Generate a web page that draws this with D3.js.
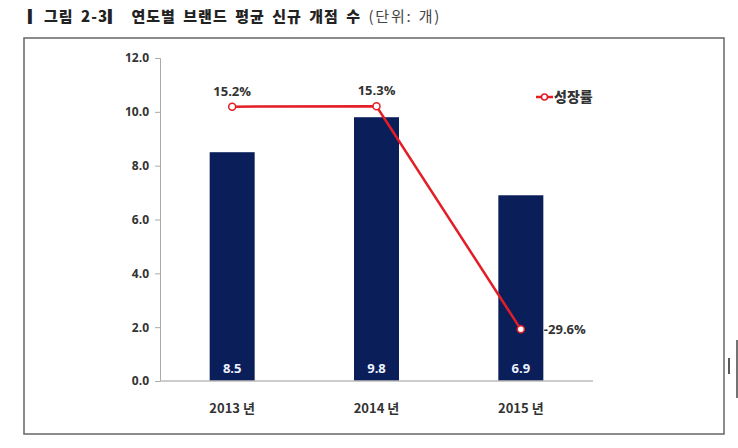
<!DOCTYPE html>
<html>
<head>
<meta charset="utf-8">
<script src="https://cdn.jsdelivr.net/npm/d3@7"></script>
<style>
  body { margin: 0; background: #fff; }
  svg { display: block; font-family: "Noto Sans CJK KR", "Noto Sans", sans-serif; }
</style>
</head>
<body>
<svg id="chart" width="738" height="448"></svg>
<script>
// chart data
const years = ["2013 년", "2014 년", "2015 년"];
const avgOpenings = [8.5, 9.8, 6.9];
const growthRates = [15.2, 15.3, -29.6];
const yTicks = [0, 2, 4, 6, 8, 10, 12];

const svg = d3.select('#chart');

// title
const title = svg.append('text')
  .attr('x', 28)
  .attr('y', 22)
  .attr('font-size', 15)
  .attr('fill', '#222')
  .attr('letter-spacing', 1.0)
  .attr('word-spacing', 3);
title.append('tspan').attr('font-weight', 900).text('▎그림 2-3▎ 연도별 브랜드 평균 신규 개점 수 ');
title.append('tspan').attr('font-weight', 400).attr('fill', '#444')
  .attr('font-size', 15).attr('letter-spacing', 1.8).attr('word-spacing', 1).text('(단위: 개)');

// frame
svg.append('rect')
  .attr('x', 24).attr('y', 38)
  .attr('width', 700).attr('height', 396)
  .attr('fill', 'none')
  .attr('stroke', '#666')
  .attr('stroke-width', 1.5);

// stray marks at the right edge of the scan
svg.append('line').attr('x1', 729).attr('x2', 729).attr('y1', 358).attr('y2', 374)
  .attr('stroke', '#222').attr('stroke-width', 1.5);
svg.append('line').attr('x1', 737).attr('x2', 737).attr('y1', 340).attr('y2', 398)
  .attr('stroke', '#444').attr('stroke-width', 1.5);

// scales
const x = d3.scaleBand().domain(years).range([160, 593]).padding(0);
const y = d3.scaleLinear().domain([0, 12]).range([381, 58]);
// hidden secondary axis for growth rate
const y2 = d3.scaleLinear().domain([-40, 25]).range([381, 58]);
const barW = 45;
const cx = d => x(d) + x.bandwidth() / 2;

// y axis
const yAxis = svg.append('g')
  .attr('transform', 'translate(160,0)')
  .call(d3.axisLeft(y).tickValues(yTicks).tickFormat(d3.format('.1f')).tickSize(5).tickPadding(6));
yAxis.select('.domain').attr('stroke', '#aaa');
yAxis.selectAll('.tick line').attr('stroke', '#aaa');
yAxis.selectAll('text')
  .attr('font-size', 12)
  .attr('font-weight', 700)
  .attr('fill', '#333')
  .attr('font-family', '"Open Sans", "Noto Sans", sans-serif');

// bars
svg.append('g')
  .selectAll('rect')
  .data(avgOpenings)
  .join('rect')
  .attr('x', (d, i) => cx(years[i]) - barW / 2)
  .attr('y', d => y(d))
  .attr('width', barW)
  .attr('height', d => y(0) - y(d))
  .attr('fill', '#0a1e5a');

// x axis line
svg.append('line')
  .attr('x1', 160).attr('x2', 593)
  .attr('y1', y(0)).attr('y2', y(0))
  .attr('stroke', '#bbb').attr('stroke-width', 1.5);

// bar value labels
svg.append('g')
  .selectAll('text')
  .data(avgOpenings)
  .join('text')
  .attr('x', (d, i) => cx(years[i]))
  .attr('y', 373)
  .attr('text-anchor', 'middle')
  .attr('font-size', 13)
  .attr('font-weight', 700)
  .attr('fill', '#eef2ff')
  .attr('font-family', '"Open Sans", "Noto Sans", sans-serif')
  .text(d => d.toFixed(1));

// category labels
svg.append('g')
  .selectAll('text')
  .data(years)
  .join('text')
  .attr('x', d => cx(d))
  .attr('y', 413)
  .attr('text-anchor', 'middle')
  .attr('font-size', 13)
  .attr('font-weight', 700)
  .attr('fill', '#333')
  .text(d => d);

// growth line
const line = d3.line()
  .x((d, i) => cx(years[i]))
  .y(d => y2(d));

svg.append('path')
  .datum(growthRates)
  .attr('d', line)
  .attr('fill', 'none')
  .attr('stroke', '#e31e26')
  .attr('stroke-width', 2.5);

svg.append('g')
  .selectAll('circle')
  .data(growthRates)
  .join('circle')
  .attr('cx', (d, i) => cx(years[i]))
  .attr('cy', d => y2(d))
  .attr('r', 3.5)
  .attr('fill', '#fff')
  .attr('stroke', '#e31e26')
  .attr('stroke-width', 1.5);

// growth labels
svg.append('g')
  .selectAll('text')
  .data(growthRates)
  .join('text')
  .attr('x', (d, i) => d < 0 ? cx(years[i]) + 23 : cx(years[i]))
  .attr('y', d => d < 0 ? y2(d) + 5 : y2(d) - 11)
  .attr('text-anchor', d => d < 0 ? 'start' : 'middle')
  .attr('font-size', 13)
  .attr('font-weight', 700)
  .attr('fill', '#333')
  .attr('font-family', '"Open Sans", "Noto Sans", sans-serif')
  .text(d => d.toFixed(1) + '%');

// legend
const legend = svg.append('g').attr('transform', 'translate(536,97)');
legend.append('line').attr('x1', 0).attr('x2', 17).attr('y1', 0).attr('y2', 0)
  .attr('stroke', '#e31e26').attr('stroke-width', 2.5);
legend.append('circle').attr('cx', 8.5).attr('cy', 0).attr('r', 3)
  .attr('fill', '#fff').attr('stroke', '#e31e26').attr('stroke-width', 1.5);
legend.append('text').attr('x', 18).attr('y', 5)
  .attr('font-size', 14).attr('font-weight', 900).attr('fill', '#333')
  .text('성장률');
</script>
</body>
</html>
